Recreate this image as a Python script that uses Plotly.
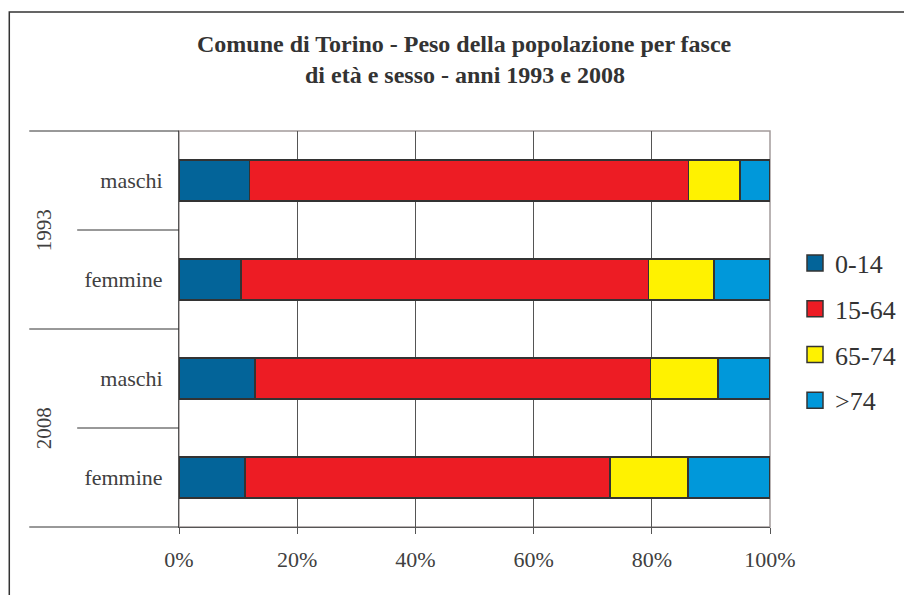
import plotly.graph_objects as go

# ---- data ----
years = ["1993", "1993", "2008", "2008"]
sexes = ["maschi", "femmine", "maschi", "femmine"]
age_groups = ["0-14", "15-64", "65-74", ">74"]
v_0_14 = [11.9, 10.5, 12.9, 11.2]
v_15_64 = [74.3, 68.9, 66.9, 61.7]
v_65_74 = [8.7, 11.1, 11.4, 13.2]
v_over74 = [5.1, 9.5, 8.8, 13.9]
x_ticks = [0, 20, 40, 60, 80, 100]
title_lines = ["Comune di Torino - Peso della popolazione per fasce",
               "di età e sesso - anni 1993 e 2008"]

series = [v_0_14, v_15_64, v_65_74, v_over74]
colors = ["#036499", "#ED1C24", "#FFF200", "#0098DA"]

# page has an 8px body margin: work in screen pixels and convert
OFF = 8
SW, SH = 912, 595
W, H = SW - OFF, SH - OFF
L, R, T, B = 179, 771, 131, 527          # screen px of plot area
pw, ph = R - L, B - T

def px_x(p):
    return (p - L) / pw

def px_y(p):
    return (B - p) / ph

FONT = "Liberation Serif, Times New Roman, serif"
ypos = list(range(len(sexes)))

fig = go.Figure()
for i, (name, vals) in enumerate(zip(age_groups, series)):
    fig.add_trace(go.Bar(
        y=ypos, x=vals, orientation="h", name=name, showlegend=False,
        marker=dict(color=colors[i], line=dict(color="#333333", width=1.5)),
        width=0.41,
        hovertemplate="%{x}%<extra>" + name + "</extra>",
    ))
# legend entries with larger square swatches
for i, name in enumerate(age_groups):
    fig.add_trace(go.Scatter(
        x=[None], y=[None], mode="markers", name=name, legendgroup=name,
        marker=dict(symbol="square", size=16, color=colors[i],
                    line=dict(color="#333333", width=1.5)),
        hoverinfo="skip",
    ))

fig.update_layout(
    width=W, height=H,
    margin=dict(l=L - OFF, r=W - (R - OFF), t=T - OFF, b=H - (B - OFF), pad=0),
    barmode="stack",
    plot_bgcolor="white", paper_bgcolor="white",
    font=dict(family=FONT, color="#404040"),
    showlegend=True,
    legend=dict(x=px_x(795), xanchor="left", y=px_y(332), yanchor="middle",
                font=dict(size=26, family=FONT, color="#333333"),
                tracegroupgap=9, bgcolor="rgba(0,0,0,0)", itemwidth=30),
    xaxis=dict(range=[0, 100], tickvals=x_ticks, ticktext=[f"{t}%" for t in x_ticks],
               showgrid=True, gridcolor="#555555", gridwidth=1,
               showline=True, linecolor="#555555", linewidth=1,
               ticks="outside", ticklen=6, tickcolor="#555555",
               ticklabelstandoff=7,
               tickfont=dict(size=22, family=FONT, color="#404040"),
               zeroline=False, fixedrange=True),
    yaxis=dict(range=[len(sexes) - 0.5, -0.5], tickvals=ypos, ticktext=sexes,
               showgrid=False, showline=True, linecolor="#555555", linewidth=1,
               ticks="", ticklabelstandoff=11,
               tickfont=dict(size=22, family=FONT, color="#404040"),
               zeroline=False, fixedrange=True),
)

shapes = []
# plot area border (light)
shapes.append(dict(type="rect", xref="paper", yref="paper", x0=0, x1=1, y0=0, y1=1,
                   line=dict(color="#A39A9A", width=1.5), layer="below"))
# outer chart frame (cut off at right/bottom)
shapes.append(dict(type="rect", xref="paper", yref="paper",
                   x0=px_x(9), x1=px_x(SW + 20), y0=px_y(SH + 20), y1=px_y(12),
                   line=dict(color="#333333", width=1.5)))
# category dividers
n = len(sexes)
for k in range(n + 1):
    yb = 1 - k / n
    x0 = px_x(29) if k % 2 == 0 else px_x(77)
    shapes.append(dict(type="line", xref="paper", yref="paper", x0=x0, x1=0, y0=yb, y1=yb,
                       line=dict(color="#333333", width=1)))
fig.update_layout(shapes=shapes)

annotations = []
# year labels
for g, yr in enumerate(sorted(set(years))):
    annotations.append(dict(text=yr, xref="paper", yref="paper", x=px_x(44),
                            y=1 - (2 * g + 1) / n, textangle=-90, showarrow=False,
                            font=dict(size=21, family=FONT, color="#404040"),
                            xanchor="center", yanchor="middle"))
# title
for j, (line, ypx) in enumerate(zip(title_lines, [44, 75])):
    annotations.append(dict(text="<b>" + line + "</b>", xref="paper", yref="paper",
                            x=px_x(465), y=px_y(ypx), showarrow=False,
                            font=dict(size=24, family=FONT, color="#333333"),
                            xanchor="center", yanchor="middle"))
fig.update_layout(annotations=annotations)

fig.write_html("out.html")
